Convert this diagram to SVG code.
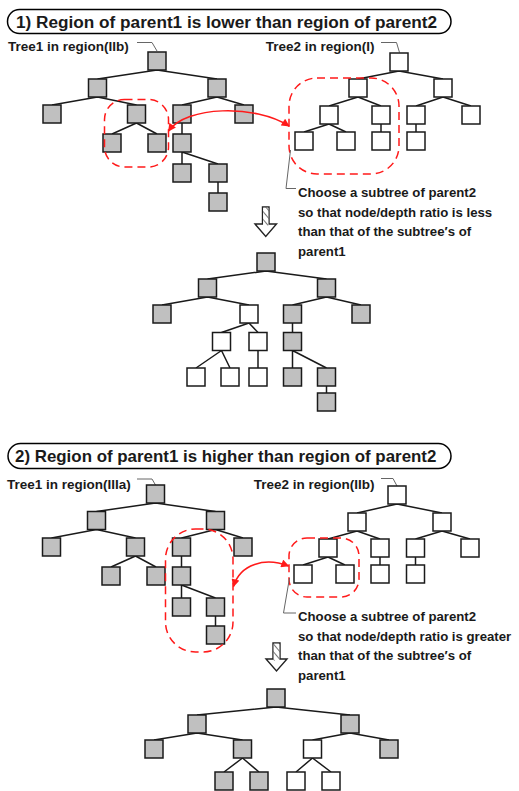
<svg xmlns="http://www.w3.org/2000/svg" width="519" height="791" viewBox="0 0 519 791">
<style>
text{font-family:"Liberation Sans",Arial,sans-serif;font-weight:bold;fill:#1a1a1a}
.title{font-size:17.2px}
.title2{font-size:16.9px}
.lbl{font-size:13.5px}
.note{font-size:13.2px}
.pill{fill:#fff;stroke:#000;stroke-width:1.5}
.g{fill:#c0c0c0;stroke:#1a1a1a;stroke-width:1.5}
.w{fill:#fff;stroke:#1a1a1a;stroke-width:1.5}
.edges path{fill:none;stroke:#1a1a1a;stroke-width:1.5}
.call{fill:none;stroke:#666;stroke-width:1}
.sel{fill:none;stroke:#ff1a1a;stroke-width:1.5;stroke-dasharray:8 5}
.swap{fill:none;stroke:#ff1a1a;stroke-width:1.5;marker-start:url(#ah);marker-end:url(#ah)}
.hollow{fill:#fff;stroke:#222;stroke-width:1.4;stroke-linejoin:miter}
</style>
<defs>
<marker id="ah" viewBox="0 0 10 10" refX="9" refY="5" markerWidth="9" markerHeight="8" markerUnits="userSpaceOnUse" orient="auto-start-reverse">
<path d="M0,0 L10,5 L0,10 z" fill="#ff1a1a"/>
</marker>
<pattern id="hatch" patternUnits="userSpaceOnUse" width="5" height="5" patternTransform="rotate(-40)">
<rect width="5" height="5" fill="#fff"/>
<line x1="0" y1="0" x2="0" y2="5" stroke="#555" stroke-width="1.6"/>
</pattern>
</defs>

<!-- Section 1 -->
<g id="title1">
<rect class="pill" x="7.5" y="9.5" width="443.5" height="24" rx="12"/>
<text class="title" x="16" y="27.5">1) Region of parent1 is lower than region of parent2</text>
</g>
<g id="label-s1-tree1">
<text class="lbl" x="8" y="50.5">Tree1 in region(IIb)</text>
<path class="call" d="M137,42.5 L152,42.5 L157,51"/>
</g>
<g id="label-s1-tree2">
<text class="lbl" x="374.5" y="50.5" text-anchor="end">Tree2 in region(I)</text>
<path class="call" d="M381,42.5 L396.5,42.5 L399.5,52.5"/>
</g>

<g class="edges" id="connectors">
<!-- s1 tree1 -->
<path d="M157,70 L97.5,79 M157,70 L217,79 M97.5,97 L52,105 M97.5,97 L136.5,105 M136.5,123 L112,134 M136.5,123 L157,134 M217,97 L182,105 M217,97 L244,105 M182,123 L182,134 M182,152 L182,164 M182,152 L218,164 M218,182 L218,193"/>
<!-- s1 tree2 -->
<path d="M399,71 L358,79 M399,71 L443,79 M358,97 L329,106 M358,97 L381,106 M443,97 L416,106 M443,97 L471,106 M329,124 L304,132 M329,124 L346,132 M381,124 L381,132 M416,124 L416,132"/>
<!-- s1 result -->
<path d="M266,271 L207.5,279 M266,271 L326.5,279 M207.5,297 L162,305 M207.5,297 L249,305 M249,323 L221.5,332.5 M249,323 L258,332.5 M221.5,350.5 L196,368 M221.5,350.5 L230,368 M258,350.5 L258,368 M326.5,297 L292.5,305 M326.5,297 L361,305 M292.5,323 L292.5,332.5 M292.5,350.5 L292.5,368 M292.5,350.5 L326.5,368 M326.5,386 L326.5,393"/>
<!-- s2 tree1 -->
<path d="M155.5,503 L96.5,511.5 M155.5,503 L215.5,511.5 M96.5,529.5 L51.5,538 M96.5,529.5 L135.5,538 M135.5,556 L111,567 M135.5,556 L156,567 M215.5,529.5 L181.5,538 M215.5,529.5 L243,538 M181.5,556 L181.5,567 M181.5,585 L181.5,598 M181.5,585 L215.5,598 M215.5,616 L215.5,626"/>
<!-- s2 tree2 -->
<path d="M397,504 L357,513 M397,504 L442,513 M357,531 L328,539 M357,531 L380,539 M442,531 L415.5,539 M442,531 L470,539 M328,557 L303,565 M328,557 L345,565 M380,557 L380,565 M415.5,557 L415.5,565"/>
<!-- s2 result -->
<path d="M276,707 L197,715 M276,707 L350,715 M197,733 L154,740 M197,733 L242.5,740 M242.5,758 L224,772 M242.5,758 L259,772 M350,733 L312.5,740 M350,733 L389,740 M312.5,758 L296,772 M312.5,758 L331,772"/>
</g>

<!-- s1 tree1 nodes -->
<g id="s1-tree1">
<rect class="g" x="148" y="52" width="18" height="18"/>
<rect class="g" x="88.5" y="79" width="18" height="18"/>
<rect class="g" x="208" y="79" width="18" height="18"/>
<rect class="g" x="43" y="105" width="18" height="18"/>
<rect class="g" x="127.5" y="105" width="18" height="18"/>
<rect class="g" x="173" y="105" width="18" height="18"/>
<rect class="g" x="235" y="105" width="18" height="18"/>
<rect class="g" x="103" y="134" width="18" height="18"/>
<rect class="g" x="148" y="134" width="18" height="18"/>
<rect class="g" x="173" y="134" width="18" height="18"/>
<rect class="g" x="173" y="164" width="18" height="18"/>
<rect class="g" x="209" y="164" width="18" height="18"/>
<rect class="g" x="209" y="193" width="18" height="18"/>
</g>
<g id="s1-tree2">
<rect class="w" x="390" y="53" width="18" height="18"/>
<rect class="w" x="349" y="79" width="18" height="18"/>
<rect class="w" x="434" y="79" width="18" height="18"/>
<rect class="w" x="320" y="106" width="18" height="18"/>
<rect class="w" x="372" y="106" width="18" height="18"/>
<rect class="w" x="407" y="106" width="18" height="18"/>
<rect class="w" x="462" y="106" width="18" height="18"/>
<rect class="w" x="295" y="132" width="18" height="18"/>
<rect class="w" x="337" y="132" width="18" height="18"/>
<rect class="w" x="372" y="132" width="18" height="18"/>
<rect class="w" x="407" y="132" width="18" height="18"/>
</g>
<g id="s1-selection">
<rect class="sel" x="104.5" y="99.5" width="64" height="67.5" rx="20"/>
<rect class="sel" x="289" y="78" width="110" height="96" rx="28"/>
<path class="swap" d="M289,126 C255,104 186,106 168.5,131"/>
</g>
<g id="s1-note">
<path class="call" d="M290.5,150 L286,188.5 L296,188.5"/>
<text class="note" x="298" y="197">Choose a subtree of parent2</text>
<text class="note" x="298" y="216.7">so that node/depth ratio is less</text>
<text class="note" x="298" y="236.4">than that of the subtree′s of</text>
<text class="note" x="298" y="256">parent1</text>
</g>
<g id="s1-arrow">
<polygon class="hollow" points="262.5,207 269,207 269,224 276.5,224 265.75,236.5 255,224 262.5,224"/>
<rect x="263.2" y="207.7" width="5.1" height="18" fill="url(#hatch)"/>
</g>
<g id="s1-result">
<rect class="g" x="257" y="253" width="18" height="18"/>
<rect class="g" x="198.5" y="279" width="18" height="18"/>
<rect class="g" x="317.5" y="279" width="18" height="18"/>
<rect class="g" x="153" y="305" width="18" height="18"/>
<rect class="w" x="240" y="305" width="18" height="18"/>
<rect class="g" x="283.5" y="305" width="18" height="18"/>
<rect class="g" x="352" y="305" width="18" height="18"/>
<rect class="w" x="212.5" y="332.5" width="18" height="18"/>
<rect class="w" x="249" y="332.5" width="18" height="18"/>
<rect class="g" x="283.5" y="332.5" width="18" height="18"/>
<rect class="w" x="187" y="368" width="18" height="18"/>
<rect class="w" x="221" y="368" width="18" height="18"/>
<rect class="w" x="249" y="368" width="18" height="18"/>
<rect class="g" x="283.5" y="368" width="18" height="18"/>
<rect class="g" x="317.5" y="368" width="18" height="18"/>
<rect class="g" x="317.5" y="393" width="18" height="18"/>
</g>

<!-- Section 2 -->
<g id="title2">
<rect class="pill" x="8" y="443.5" width="443" height="25" rx="12.5"/>
<text class="title2" x="15" y="461.5">2) Region of parent1 is higher than region of parent2</text>
</g>
<g id="label-s2-tree1">
<text class="lbl" x="7" y="488.5">Tree1 in region(IIIa)</text>
<path class="call" d="M137,479 L152,479 L155.5,485"/>
</g>
<g id="label-s2-tree2">
<text class="lbl" x="374.5" y="488.5" text-anchor="end">Tree2 in region(IIb)</text>
<path class="call" d="M381,478.5 L393,478.5 L397,486"/>
</g>
<g id="s2-tree1">
<rect class="g" x="146.5" y="485" width="18" height="18"/>
<rect class="g" x="87.5" y="511.5" width="18" height="18"/>
<rect class="g" x="206.5" y="511.5" width="18" height="18"/>
<rect class="g" x="42.5" y="538" width="18" height="18"/>
<rect class="g" x="126.5" y="538" width="18" height="18"/>
<rect class="g" x="172.5" y="538" width="18" height="18"/>
<rect class="g" x="234" y="538" width="18" height="18"/>
<rect class="g" x="102" y="567" width="18" height="18"/>
<rect class="g" x="147" y="567" width="18" height="18"/>
<rect class="g" x="172.5" y="567" width="18" height="18"/>
<rect class="g" x="172.5" y="598" width="18" height="18"/>
<rect class="g" x="206.5" y="598" width="18" height="18"/>
<rect class="g" x="206.5" y="626" width="18" height="18"/>
</g>
<g id="s2-tree2">
<rect class="w" x="388" y="486" width="18" height="18"/>
<rect class="w" x="348" y="513" width="18" height="18"/>
<rect class="w" x="433" y="513" width="18" height="18"/>
<rect class="w" x="319" y="539" width="18" height="18"/>
<rect class="w" x="371" y="539" width="18" height="18"/>
<rect class="w" x="406.5" y="539" width="18" height="18"/>
<rect class="w" x="461" y="539" width="18" height="18"/>
<rect class="w" x="294" y="565" width="18" height="18"/>
<rect class="w" x="336" y="565" width="18" height="18"/>
<rect class="w" x="371" y="565" width="18" height="18"/>
<rect class="w" x="406.5" y="565" width="18" height="18"/>
</g>
<g id="s2-selection">
<rect class="sel" x="165.5" y="529" width="67.5" height="123" rx="30"/>
<rect class="sel" x="289" y="538" width="70" height="59" rx="18"/>
<path class="swap" d="M288.5,566 C265,557 240,564 233.5,586.5"/>
</g>
<g id="s2-note">
<path class="call" d="M289.5,578 L283.5,613 L296,613"/>
<text class="note" x="298" y="621">Choose a subtree of parent2</text>
<text class="note" x="298" y="640.5">so that node/depth ratio is greater</text>
<text class="note" x="298" y="660">than that of the subtree′s of</text>
<text class="note" x="298" y="679.5">parent1</text>
</g>
<g id="s2-arrow">
<polygon class="hollow" points="273,643 280,643 280,659 287,659 276.5,671 266,659 273,659"/>
<rect x="273.7" y="643.7" width="5.6" height="17" fill="url(#hatch)"/>
</g>
<g id="s2-result">
<rect class="g" x="267" y="689" width="18" height="18"/>
<rect class="g" x="188" y="715" width="18" height="18"/>
<rect class="g" x="341" y="715" width="18" height="18"/>
<rect class="g" x="145" y="740" width="18" height="18"/>
<rect class="g" x="233.5" y="740" width="18" height="18"/>
<rect class="w" x="303.5" y="740" width="18" height="18"/>
<rect class="g" x="380" y="740" width="18" height="18"/>
<rect class="g" x="215" y="772" width="18" height="18"/>
<rect class="g" x="250" y="772" width="18" height="18"/>
<rect class="w" x="287" y="772" width="18" height="18"/>
<rect class="w" x="322" y="772" width="18" height="18"/>
</g>
</svg>
